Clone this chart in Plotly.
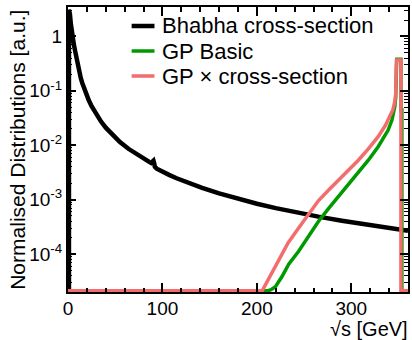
import math
import plotly.graph_objects as go

# Plotting floor used for empty histogram bins (log axis cannot show zero)
FLOOR = 2.1e-5

# Bhabha cross-section vs sqrt(s) [GeV]
bhabha_x = [1, 1, 2, 3, 3.9, 5, 6.2, 7.4, 8.3, 9.2, 10.5, 12, 13.5, 15, 17, 19.5,
            22, 25, 28, 31, 35, 40, 47, 55, 64, 72, 80, 86, 88, 89.5, 90.5, 91.2,
            92, 94, 97, 100, 107, 115, 125, 142, 160, 180, 200, 220, 244, 265,
            290, 315, 335, 353, 360]
bhabha_y = [FLOOR, 3.1, 2.6, 1.7, 1.2, 0.92, 0.71, 0.555, 0.455, 0.366, 0.283,
            0.218, 0.173, 0.141, 0.111, 0.0847, 0.0669, 0.0522, 0.0418, 0.0343,
            0.0272, 0.021, 0.0154, 0.0114, 0.0086, 0.0069, 0.0057, 0.00494,
            0.00472, 0.0049, 0.0052, 0.0047, 0.0040, 0.0037, 0.00345, 0.0032,
            0.00285, 0.00247, 0.00211, 0.00164, 0.0013, 0.00103, 0.00084,
            0.000698, 0.00057, 0.000486, 0.000408, 0.000346, 0.000306,
            0.000277, 0.000266]

# GP Basic distribution
gp_x = [0, 211, 215, 219.6, 226.6, 233.7, 244.2, 255, 265.3, 276, 286.3, 297,
        307.4, 318, 328.4, 334, 339, 343, 346, 347, 347.5, 348, 352.5, 352.5,
        353.5, 353.5, 360]
gp_y = [FLOOR, FLOOR, 2.2e-5, 2.5e-5, 3.85e-5, 6.5e-5, 1.12e-4, 2.15e-4, 4.0e-4,
        6.9e-4, 1.13e-3, 1.85e-3, 3.06e-3, 5.3e-3, 9.4e-3, 0.0135, 0.019,
        0.029, 0.051, 0.075, 0.24, 0.38, 0.38, 0.045, 0.045, FLOOR, FLOOR]

# GP x cross-section distribution
gpx_x = [0, 205.6, 209, 214.4, 223, 233, 244.2, 255, 265.3, 276, 286.3, 297,
         307.4, 318, 328.4, 336, 342, 344, 346, 347, 347.5, 348, 352.5, 352.5,
         360]
gpx_y = [FLOOR, FLOOR, 2.7e-5, 4.1e-5, 8.0e-5, 1.6e-4, 3.0e-4, 5.6e-4, 9.6e-4,
         1.5e-3, 2.25e-3, 3.4e-3, 5.3e-3, 8.6e-3, 0.0144, 0.023, 0.037, 0.045,
         0.063, 0.09, 0.25, 0.37, 0.37, FLOOR, FLOOR]

names = ["Bhabha cross-section", "GP Basic", "GP \u00d7 cross-section"]
colors = ["#000000", "#009900", "#f46d6d"]
widths = [4.5, 3.5, 3.5]

y_major = [1e-4, 1e-3, 1e-2, 1e-1, 1]
y_major_text = ["10<sup>-4</sup>", "10<sup>-3</sup>", "10<sup>-2</sup>",
                "10<sup>-1</sup>", "1"]
y_minor = [m * 10.0 ** e for e in range(-5, 1) for m in range(2, 10)]

FONT = "Liberation Sans, Arial, Helvetica, sans-serif"

fig = go.Figure()
for xs, ys, name, col, w in zip([bhabha_x, gp_x, gpx_x], [bhabha_y, gp_y, gpx_y],
                                names, colors, widths):
    fig.add_trace(go.Scatter(x=xs, y=ys, mode="lines", name=name,
                             line=dict(color=col, width=w), showlegend=False))

# Legend drawn as line segments plus labels
leg_rows = [26, 51, 76]
W, H = 412, 340
L, R, T, B = 68, 2, 7, 48
pw, ph = W - L - R, H - T - B
for row, name, col, w in zip(leg_rows, names, colors, widths):
    yp = 1 - (row - T) / ph
    fig.add_shape(type="line", xref="paper", yref="paper",
                  x0=(132 - L) / pw, x1=(155 - L) / pw, y0=yp, y1=yp,
                  line=dict(color=col, width=w))
    fig.add_annotation(text=name, xref="paper", yref="paper",
                       x=(161 - L) / pw, y=yp, xanchor="left", yanchor="middle",
                       showarrow=False, font=dict(size=22, color="black", family=FONT))

fig.add_annotation(text="Normalised Distributions [a.u.]", xref="paper", yref="paper",
                   x=(17 - L) / pw, y=0.5, textangle=-90, showarrow=False,
                   xanchor="center", yanchor="middle",
                   font=dict(size=21, color="black", family=FONT))
fig.add_annotation(text="\u221as [GeV]", xref="paper", yref="paper",
                   x=1 + R / pw, y=-(329 - (H - B)) / ph, xanchor="right",
                   yanchor="middle", showarrow=False,
                   font=dict(size=20, color="black", family=FONT))

fig.update_layout(
    width=W, height=H,
    margin=dict(l=L, r=R, t=T, b=B),
    paper_bgcolor="white", plot_bgcolor="white",
    font=dict(family=FONT, color="black"),
    xaxis=dict(range=[0, 360], tickmode="linear", tick0=0, dtick=100,
               ticks="inside", ticklen=9, tickwidth=1.5, tickcolor="black",
               minor=dict(ticks="inside", dtick=20, ticklen=4.5, tickwidth=1.5,
                          tickcolor="black"),
               showline=True, linewidth=2, linecolor="black", mirror="allticks",
               showgrid=False, zeroline=False, tickfont=dict(size=19),
               ticklabelstandoff=-2),
    yaxis=dict(type="log", range=[math.log10(2e-5), math.log10(3.48)],
               tickmode="array", tickvals=y_major, ticktext=y_major_text,
               ticks="inside", ticklen=8, tickwidth=1.5, tickcolor="black",
               minor=dict(ticks="inside", tickmode="array", tickvals=y_minor,
                          ticklen=4, tickwidth=1.2, tickcolor="black"),
               showline=True, linewidth=2, linecolor="black", mirror="allticks",
               showgrid=False, zeroline=False, tickfont=dict(size=19)),
)

fig.write_html("out.html")
